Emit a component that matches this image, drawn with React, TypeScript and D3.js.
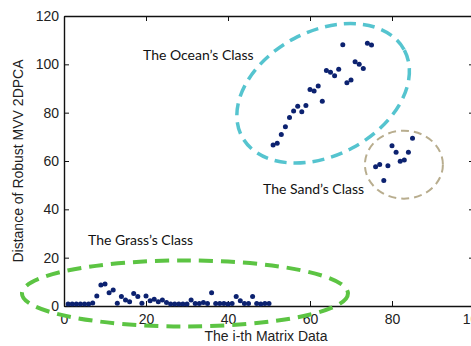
import React from 'react'
import * as d3 from 'd3'

// values, x is the index of the matrix (1..85)
const grassValues = [
  0.8, 0.8, 0.8, 0.8, 0.8, 0.8, 1.2, 4.1, 8.7, 9.1,
  5.5, 6.6, 1.1, 3.9, 2.5, 1.8, 5.2, 3.9, 1.1, 4.1,
  2.2, 2.8, 1.8, 2.5, 1.5, 0.8, 0.8, 0.8, 0.8, 0.8,
  2.5, 1, 1, 1.5, 1, 5.5, 1, 1, 1, 0.8,
  1, 3.9, 2.2, 1, 1, 3.9, 1, 0.8, 1, 1
]
const oceanValues = [
  66.6, 67.3, 71, 74.2, 78, 80.7, 82.7, 80.4, 83, 89.6,
  89, 91, 84.7, 97.4, 96.7, 95.3, 98, 108.1, 92.4, 93.5,
  101.1, 100, 98.3, 108.7, 108
]
const sandValues = [57.6, 58.6, 51.9, 58, 66.3, 63.6, 59.9, 60.4, 63.6, 69.4]

const xTicks = [0, 20, 40, 60, 80, 100]
const yTicks = [0, 20, 40, 60, 80, 100, 120]

const classLabels = ["The Ocean\u2019s Class", "The Sand\u2019s Class", "The Grass\u2019s Class"]

const W = 471
const H = 346
const left = 64
const right = 474
const top = 16
const bottom = 306

function App() {
  const xAxisRef = React.useRef(null)
  const yAxisRef = React.useRef(null)
  const topAxisRef = React.useRef(null)
  const rightAxisRef = React.useRef(null)

  const x = d3.scaleLinear().domain([0, 100]).range([left, right])
  const y = d3.scaleLinear().domain([0, 120]).range([bottom, top])

  const points = [...grassValues, ...oceanValues, ...sandValues].map((v, i) => ({
    i: i + 1,
    v
  }))

  React.useEffect(() => {
    const style = (g) => {
      g.select('.domain').attr('stroke', '#111').attr('stroke-width', 1.4)
      g.selectAll('.tick line').attr('stroke', '#111').attr('stroke-width', 1)
      g.selectAll('.tick text')
        .attr('fill', '#222')
        .style('font-family', 'Liberation Sans, Arial, sans-serif')
        .style('font-size', '14px')
    }
    d3.select(xAxisRef.current)
      .call(d3.axisBottom(x).tickValues(xTicks).tickSizeInner(-5).tickSizeOuter(0).tickPadding(8))
      .call(style)
    d3.select(yAxisRef.current)
      .call(d3.axisLeft(y).tickValues(yTicks).tickSizeInner(-5).tickSizeOuter(0).tickPadding(5))
      .call(style)
    d3.select(topAxisRef.current)
      .call(d3.axisTop(x).tickValues(xTicks).tickSizeInner(-5).tickSizeOuter(0).tickFormat(() => ''))
      .call(style)
    d3.select(rightAxisRef.current)
      .call(d3.axisRight(y).tickValues(yTicks).tickSizeInner(-5).tickSizeOuter(0).tickFormat(() => ''))
      .call(style)
  }, [])

  // annotation ellipses, centre in data units
  const oceanC = [63.2, 88]
  const sandC = [82.9, 58.5]
  const grassC = [29.5, 5.2]

  return (
    <svg width={W} height={H} style={{ position: 'absolute', left: 0, top: 0, background: '#fff' }}>
      <rect width={W} height={H} fill="#fff" />
      <g ref={xAxisRef} transform={`translate(0, ${bottom})`} />
      <g ref={yAxisRef} transform={`translate(${left}, 0)`} />
      <g ref={topAxisRef} transform={`translate(0, ${top})`} />
      <g ref={rightAxisRef} transform={`translate(${right}, 0)`} />

      {points.map((d) => (
        <circle key={d.i} cx={x(d.i)} cy={y(d.v)} r={2.5} fill="#0c2270" />
      ))}

      <ellipse
        cx={x(oceanC[0])}
        cy={y(oceanC[1])}
        rx={92}
        ry={62}
        transform={`rotate(-28, ${x(oceanC[0])}, ${y(oceanC[1])})`}
        fill="none"
        stroke="#55c4cf"
        strokeWidth={3.5}
        strokeDasharray="12 7"
      />
      <ellipse
        cx={x(sandC[0])}
        cy={y(sandC[1])}
        rx={39}
        ry={34}
        fill="none"
        stroke="#b8ad8e"
        strokeWidth={2}
        strokeDasharray="8 5"
      />
      <ellipse
        cx={x(grassC[0])}
        cy={y(grassC[1])}
        rx={163}
        ry={33}
        fill="none"
        stroke="#5cc443"
        strokeWidth={4}
        strokeDasharray="14 8"
      />

      <g style={{ fontFamily: 'Lato, sans-serif', fontSize: '14px' }} fill="#111">
        <text x={143} y={60}>{classLabels[0]}</text>
        <text x={263} y={194}>{classLabels[1]}</text>
        <text x={88} y={245}>{classLabels[2]}</text>
      </g>

      <text
        x={266}
        y={341}
        textAnchor="middle"
        style={{ fontFamily: 'Liberation Sans, Arial, sans-serif', fontSize: '14px' }}
        fill="#222"
      >
        The i-th Matrix Data
      </text>
      <text
        transform="translate(23, 161) rotate(-90)"
        textAnchor="middle"
        style={{ fontFamily: 'Liberation Sans, Arial, sans-serif', fontSize: '14px' }}
        fill="#222"
      >
        Distance of Robust MVV 2DPCA
      </text>
    </svg>
  )
}

export default App
